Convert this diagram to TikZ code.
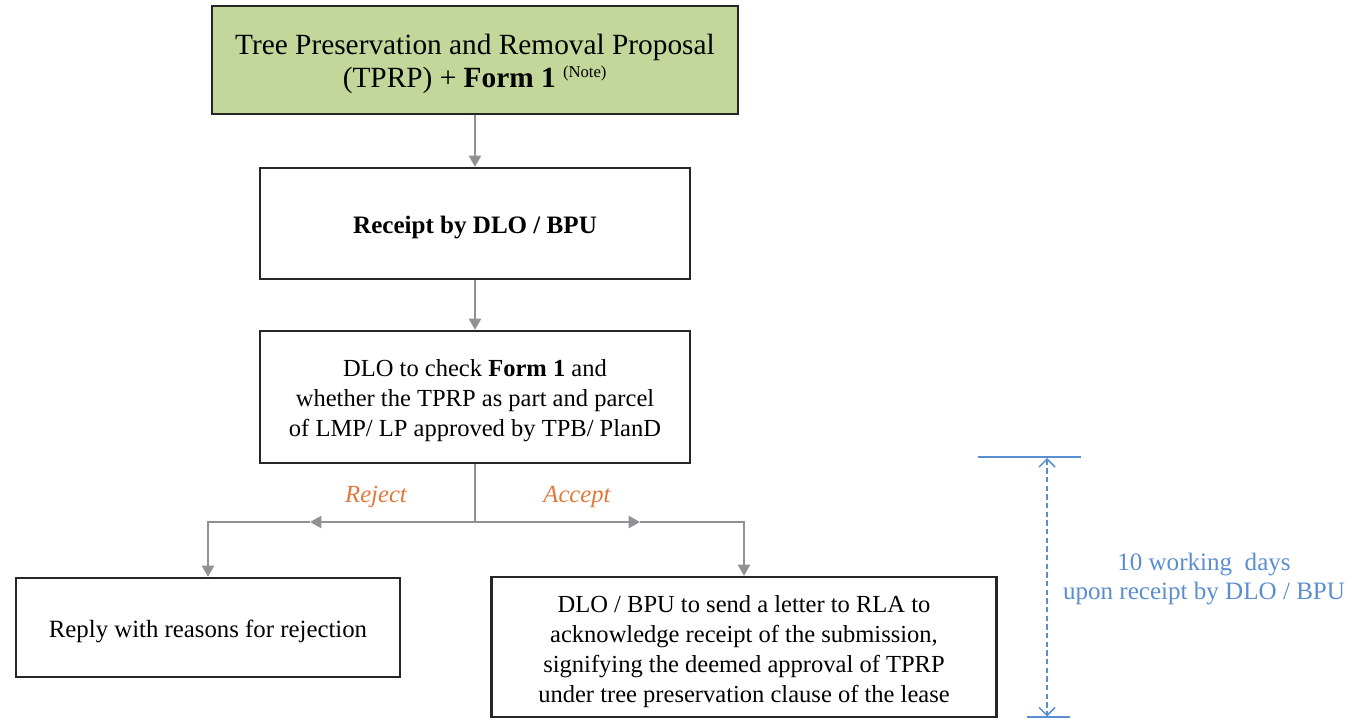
\documentclass[tikz,border=0pt]{standalone}
\usepackage{fontspec}
\setmainfont{Liberation Serif}
\usetikzlibrary{arrows.meta}
\definecolor{boxgreen}{HTML}{C4D79B}
\definecolor{arrgray}{HTML}{909194}
\definecolor{lblorange}{HTML}{E2783A}
\definecolor{dimblue}{HTML}{5B8ED0}
\tikzset{
  boxbase/.style={draw=black!85, line width=1.6pt, align=center, inner sep=0pt},
  flowarr/.style={draw=arrgray, line width=1.8pt, -{Triangle[length=8.5pt,width=9pt]}},
  flowline/.style={draw=arrgray, line width=1.8pt},
  lbl/.style={text=lblorange, font=\fontsize{18.5}{20}\selectfont\itshape},
  dimline/.style={draw=dimblue, line width=1.1pt},
  dimtext/.style={text=dimblue, align=center, font=\fontsize{18.8}{21.75}\selectfont}
}
\begin{document}
\begin{tikzpicture}[x=0.75pt,y=-0.75pt]
\useasboundingbox (0,0) rectangle (1360,718);
% boxes
\node[boxbase, fill=boxgreen, minimum width=526*0.75pt, minimum height=108*0.75pt] (prop) at (475,60) {};
\node[align=center, font=\fontsize{22}{24.75}\selectfont] (proptext) at (475,63.5)
  {Tree Preservation and Removal Proposal\\(TPRP) + \textbf{Form 1} \textsuperscript{\fontsize{12.5}{13}\selectfont(Note)}};
\node[boxbase, fill=white, minimum width=430*0.75pt, minimum height=111*0.75pt] (rcpt) at (475,223.5) {};
\node[font=\fontsize{18.8}{20}\selectfont\bfseries] (rcpttext) at (475,228) {Receipt by DLO / BPU};
\node[boxbase, fill=white, minimum width=430*0.75pt, minimum height=132*0.75pt] (check) at (475,397) {};
\node[align=center, font=\fontsize{18.4}{22.5}\selectfont] (checktext) at (475,401)
  {DLO to check \textbf{Form 1} and\\whether the TPRP as part and parcel\\of LMP/ LP approved by TPB/ PlanD};
\node[boxbase, fill=white, minimum width=384*0.75pt, minimum height=99*0.75pt] (reject) at (208,627.5) {};
\node[font=\fontsize{18.6}{22.5}\selectfont] (rejecttext) at (208,631)
  {Reply with reasons for rejection};
\node[boxbase, fill=white, minimum width=505*0.75pt, minimum height=140*0.75pt] (accept) at (744,647) {};
\node[align=center, font=\fontsize{18.4}{22.5}\selectfont] (accepttext) at (744,652)
  {DLO / BPU to send a letter to RLA to\\acknowledge receipt of the submission,\\signifying the deemed approval of TPRP\\under tree preservation clause of the lease};
% connectors
\draw[flowarr] (prop.south) -- (rcpt.north);
\draw[flowarr] (rcpt.south) -- (check.north);
\coordinate (split) at (475,522);
\coordinate (rejmid) at (310,522);
\coordinate (accmid) at (640,522);
\draw[flowline] (check.south) -- (split);
\draw[flowarr] (split) -- (rejmid);
\draw[flowarr] (split) -- (accmid);
\draw[flowarr] (rejmid) -| (reject.north);
\draw[flowarr] (accmid) -| (accept.north);
\node[lbl] (rejlbl) at (376,497) {Reject};
\node[lbl] (acclbl) at (577,497) {Accept};
% dimension
\coordinate (dtl) at (978,457);
\coordinate (dtr) at (1081,457);
\coordinate (dbl) at (1027,717);
\coordinate (dbr) at (1070,717);
\draw[dimline] (dtl) -- (dtr);
\draw[dimline] (dbl) -- (dbr);
\coordinate (dtop) at (1047,458);
\coordinate (dbot) at (1047,716.5);
\draw[dimline, dash pattern=on 4pt off 2.5pt, {Straight Barb[length=6pt,width=12pt]}-{Straight Barb[length=6pt,width=12pt]}] (dtop) -- (dbot);
\node[dimtext] (dimlbl) at (1204,579) {10 working\ \ days\\upon receipt by DLO / BPU};
\end{tikzpicture}
\end{document}
